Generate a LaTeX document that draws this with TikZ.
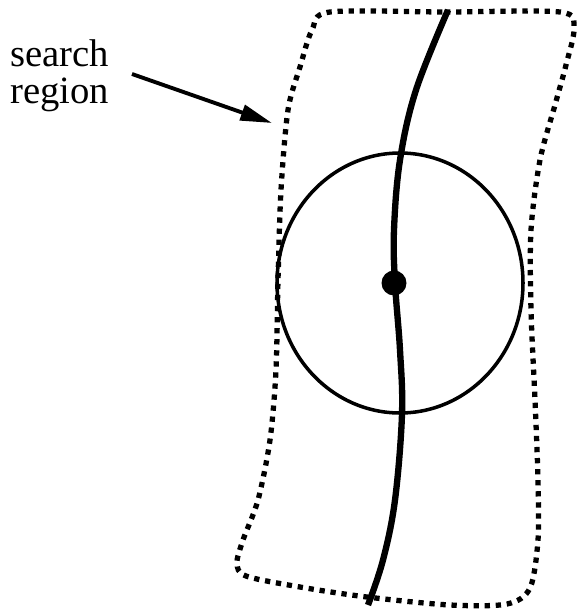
\documentclass[tikz,border=0pt]{standalone}
\usepackage{fontspec}
\setmainfont{Liberation Serif}
\usetikzlibrary{arrows.meta, positioning}

\begin{document}
\begin{tikzpicture}[x=0.02cm, y=-0.02cm]
          \useasboundingbox (0, 0) rectangle (578, 609);

          % Search region
          \draw[line width=3pt, dash pattern=on 3pt off 3.3pt] plot[smooth cycle, tension=0.5] coordinates {
            (330, 12) (445, 12) (560, 12) (574, 28) (566, 65) (555, 105) (540, 160)
            (531, 230) (531, 310) (535, 400) (538, 480) (538, 540)
            (530, 588) (507, 604) (450, 605) (367, 597) (300, 587)
            (246, 576) (237, 563) (243, 540) (258, 500) (270, 440) (276, 370)
            (278, 280) (281, 190) (288, 110) (300, 67) (312, 30)};

          % Window
          \draw[line width=2pt] (400, 283) ellipse [x radius=123, y radius=130];

          % Track
          \draw[line width=3.6pt] plot[smooth, tension=0.6] coordinates {
            (448, 10) (416, 90) (400, 160) (394, 230) (395, 283) (400, 350) (402, 414)
            (395, 500) (383, 560) (368, 605)};
          \node[circle, fill, inner sep=0pt, minimum size=0.5cm] (point) at (394, 283) {};

          % Label
          \node[anchor=north west, inner sep=0pt, align=left, font=\fontsize{22}{21}\selectfont] (label) at (10, 39) {search\\region};
          \coordinate (tip) at (272, 123);
          \draw[-{Triangle[length=18pt, width=9pt]}, line width=2.2pt] (132, 74) -- (tip);
    \end{tikzpicture}
\end{document}
